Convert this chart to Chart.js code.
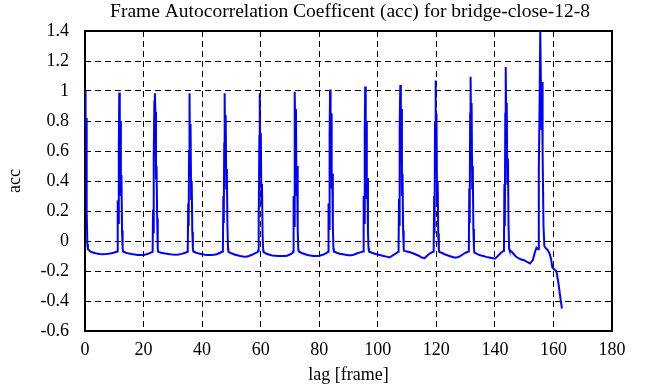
<!DOCTYPE html>
<html>
<head>
<meta charset="utf-8">
<script src="https://cdn.jsdelivr.net/npm/chart.js@4/dist/chart.umd.min.js"></script>
<style>
  html, body { margin: 0; padding: 0; background: #fff; }
  canvas { display: block; }
</style>
</head>
<body>
<canvas id="acc_chart" width="661" height="387"></canvas>
<script>
// lag [frame] and acc values, one line per peak + the flat part after it
const lag = [
  0, 0.2, 0.35, 0.5, 0.65, 0.8,
  1, 2, 3, 4, 5, 6, 7, 8, 9, 10, 11,
  11.1, 11.25, 11.4, 11.55, 11.7, 11.88, 12.05, 12.25, 12.45, 12.65, 12.85,
  13, 14, 15, 16, 17, 18, 19, 20, 21, 22, 23,
  23.1, 23.25, 23.4, 23.55, 23.7, 23.88, 24.05, 24.25, 24.45, 24.65, 24.85,
  25, 26, 27, 28, 29, 30, 31, 32, 33, 34, 35,
  35.1, 35.25, 35.4, 35.55, 35.7, 35.88, 36.05, 36.25, 36.45, 36.65, 36.85,
  37, 38, 39, 40, 41, 42, 43, 44, 45, 46, 47,
  47.1, 47.25, 47.4, 47.55, 47.7, 47.88, 48.05, 48.25, 48.45, 48.65, 48.85,
  49, 50, 51, 52, 53, 54, 55, 56, 57, 58, 59,
  59.1, 59.25, 59.4, 59.55, 59.7, 59.88, 60.05, 60.25, 60.45, 60.65, 60.85,
  61, 62, 63, 64, 65, 66, 67, 68, 69, 70, 71,
  71.1, 71.25, 71.4, 71.55, 71.7, 71.88, 72.05, 72.25, 72.45, 72.65, 72.85,
  73, 74, 75, 76, 77, 78, 79, 80, 81, 82, 83,
  83.1, 83.25, 83.4, 83.55, 83.7, 83.88, 84.05, 84.25, 84.45, 84.65, 84.85,
  85, 86, 87, 88, 89, 90, 91, 92, 93, 94, 95,
  95.1, 95.25, 95.4, 95.55, 95.7, 95.88, 96.05, 96.25, 96.45, 96.65, 96.85,
  97, 98, 99, 100, 101, 102, 103, 104, 105, 106, 107,
  107.1, 107.25, 107.4, 107.55, 107.7, 107.88, 108.05, 108.25, 108.45, 108.65, 108.85,
  109, 110, 111, 112, 113, 114, 115, 116, 117, 118, 119,
  119.1, 119.25, 119.4, 119.55, 119.7, 119.88, 120.05, 120.25, 120.45, 120.65, 120.85,
  121, 122, 123, 124, 125, 126, 127, 128, 129, 130, 131,
  131.1, 131.25, 131.4, 131.55, 131.7, 131.88, 132.05, 132.25, 132.45, 132.65, 132.85,
  133, 134, 135, 136, 137, 138, 139, 140, 141, 142, 143,
  143.1, 143.25, 143.4, 143.55, 143.7, 143.88, 144.05, 144.25, 144.45, 144.65, 144.85,
  145, 146, 147, 148, 149, 150, 151, 152, 153, 153.6, 154.2, 154.8,
  155.0, 155.3, 155.5, 155.7, 155.9, 156.1, 156.3, 156.6, 156.9,
  157.5, 158, 158.6, 159.2, 159.6, 160.3, 161, 161.7, 162.3, 162.9
];

const acc = [
  1.0, 0.78, 0.82, 0.4, 0.2, -0.02,
  -0.055, -0.072, -0.078, -0.084, -0.087, -0.088, -0.087, -0.085, -0.082, -0.077, -0.07,
  -0.065, 0.27, 0.12, 0.62, 0.99, 0.52, 0.8, 0.3, 0.44, 0.07, -0.05,
  -0.07, -0.078, -0.083, -0.087, -0.09, -0.093, -0.094, -0.093, -0.088, -0.082, -0.072,
  -0.065, 0.21, 0.05, 0.57, 0.93, 0.985, 0.86, 0.41, 0.5, 0.15, -0.05,
  -0.072, -0.078, -0.082, -0.085, -0.088, -0.09, -0.091, -0.09, -0.086, -0.08, -0.072,
  -0.065, 0.25, 0.1, 0.6, 0.985, 0.5, 0.78, 0.28, 0.4, 0.06, -0.05,
  -0.07, -0.078, -0.084, -0.088, -0.091, -0.093, -0.094, -0.092, -0.088, -0.08, -0.07,
  -0.06, 0.3, 0.12, 0.65, 0.985, 0.6, 0.84, 0.35, 0.48, 0.1, -0.05,
  -0.072, -0.082, -0.09, -0.095, -0.1, -0.103, -0.105, -0.1, -0.092, -0.083, -0.074,
  -0.065, 0.22, 0.08, 0.7, 0.985, 0.45, 0.72, 0.25, 0.38, 0.05, -0.06,
  -0.075, -0.085, -0.092, -0.096, -0.098, -0.1, -0.1, -0.1, -0.098, -0.09, -0.078,
  -0.07, 0.3, 0.1, 0.68, 0.995, 0.62, 0.88, 0.3, 0.5, 0.08, -0.055,
  -0.07, -0.08, -0.087, -0.093, -0.097, -0.1, -0.1, -0.098, -0.094, -0.085, -0.072,
  -0.065, 0.25, 0.08, 0.7, 1.01, 0.6, 0.85, 0.35, 0.45, 0.1, -0.05,
  -0.07, -0.078, -0.085, -0.088, -0.092, -0.095, -0.095, -0.09, -0.082, -0.076, -0.07,
  -0.065, 0.3, 0.12, 0.72, 1.03, 0.55, 0.8, 0.28, 0.42, 0.06, -0.05,
  -0.07, -0.078, -0.085, -0.09, -0.095, -0.1, -0.104, -0.11, -0.098, -0.085, -0.072,
  -0.065, 0.28, 0.1, 0.75, 1.04, 0.6, 0.88, 0.3, 0.45, 0.07, -0.05,
  -0.066, -0.07, -0.075, -0.082, -0.09, -0.098, -0.11, -0.115, -0.095, -0.08, -0.07,
  -0.06, 0.3, 0.05, 0.8, 1.07, 0.65, 0.85, 0.25, 0.4, 0.05, -0.06,
  -0.073, -0.08, -0.09, -0.097, -0.103, -0.11, -0.11, -0.103, -0.09, -0.078, -0.07,
  -0.065, 0.35, 0.12, 0.85, 1.095, 0.7, 0.92, 0.35, 0.5, 0.08, -0.05,
  -0.077, -0.088, -0.095, -0.1, -0.106, -0.11, -0.114, -0.118, -0.1, -0.08, -0.065,
  -0.05, 0.38, 0.1, 0.85, 1.16, 0.8, 0.92, 0.38, 0.55, 0.12, -0.05,
  -0.06, -0.077, -0.1, -0.115, -0.123, -0.128, -0.14, -0.15, -0.125, -0.08, -0.045, -0.055,
  0.47, 0.975, 1.4, 1.4, 0.74, 1.06, 0.59, 0.1, -0.035,
  -0.05, -0.06, -0.08, -0.12, -0.175, -0.19, -0.2, -0.28, -0.37, -0.45
];

const xTicks = [0, 20, 40, 60, 80, 100, 120, 140, 160, 180];
const yTicks = [-0.6, -0.4, -0.2, 0, 0.2, 0.4, 0.6, 0.8, 1, 1.2, 1.4];

const serif = "'Liberation Serif', 'Times New Roman', serif";

// box round the plot, drawn under the line like gnuplot does
const frameBox = {
  id: 'frameBox',
  beforeDatasetsDraw(chart) {
    const a = chart.chartArea;
    const ctx = chart.ctx;
    ctx.save();
    ctx.strokeStyle = '#000';
    ctx.lineWidth = 2;
    ctx.strokeRect(a.left, a.top, a.right - a.left, a.bottom - a.top);
    ctx.restore();
  }
};

const points = lag.map((l, i) => ({ x: l, y: acc[i] }));

const ctx = document.getElementById('acc_chart').getContext('2d');
new Chart(ctx, {
  type: 'line',
  data: {
    datasets: [{
      label: 'acc',
      data: points,
      borderColor: '#0000ff',
      borderWidth: 2,
      pointRadius: 0,
      tension: 0,
      fill: false
    }]
  },
  options: {
    responsive: false,
    animation: false,
    devicePixelRatio: 1,
    // left pad so the title centres where the reference has it
    layout: { padding: { left: 39, right: 0, top: 0, bottom: 0 } },
    plugins: {
      legend: { display: false },
      tooltip: { enabled: false },
      title: {
        display: true,
        text: 'Frame Autocorrelation Coefficent (acc) for bridge-close-12-8',
        color: '#000',
        font: { family: serif, size: 19.5, weight: 'normal' },
        padding: { top: 0, bottom: 7.6 }
      }
    },
    scales: {
      x: {
        type: 'linear',
        min: 0,
        max: 180,
        afterFit(scale) { scale.height = 56; },
        afterBuildTicks(scale) { scale.ticks = xTicks.map(v => ({ value: v })); },
        ticks: {
          color: '#000',
          padding: 8,
          maxRotation: 0,
          font: { family: serif, size: 18 },
          callback: v => String(v)
        },
        grid: { color: '#000', lineWidth: 1, drawTicks: false },
        border: { display: false, dash: [6, 4] },
        title: {
          display: true,
          text: 'lag [frame]',
          color: '#000',
          font: { family: serif, size: 18 },
          padding: { top: 0, bottom: 1 }
        }
      },
      y: {
        type: 'linear',
        min: -0.6,
        max: 1.4,
        afterFit(scale) { scale.width = 46; },
        afterBuildTicks(scale) { scale.ticks = yTicks.map(v => ({ value: v })); },
        ticks: {
          color: '#000',
          padding: 16,
          font: { family: serif, size: 18 },
          callback: v => String(Number(v.toFixed(1)))
        },
        grid: { color: '#000', lineWidth: 1, drawTicks: false },
        border: { display: false, dash: [6, 4] },
        title: {
          display: true,
          text: 'acc',
          color: '#000',
          font: { family: serif, size: 18 },
          padding: { top: -35, bottom: 0 }
        }
      },
      // empty right axis only to hold the space right of the plot
      yRight: {
        type: 'linear',
        position: 'right',
        min: -0.6,
        max: 1.4,
        afterFit(scale) { scale.width = 49; },
        ticks: { display: false },
        grid: { display: false },
        border: { display: false }
      }
    }
  },
  plugins: [frameBox]
});
</script>
</body>
</html>
